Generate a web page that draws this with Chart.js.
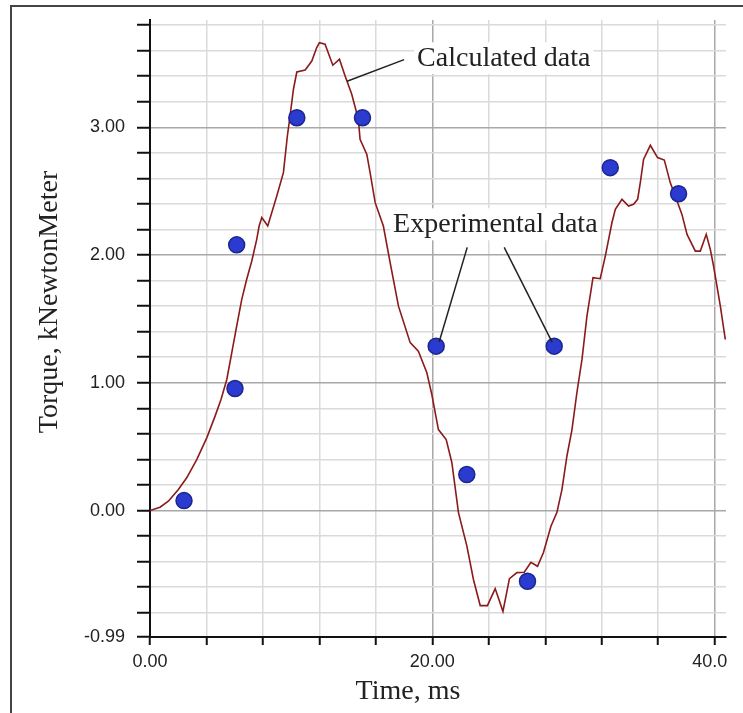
<!DOCTYPE html>
<html>
<head>
<meta charset="utf-8">
<script src="https://cdn.jsdelivr.net/npm/chart.js@4.4.0/dist/chart.umd.min.js"></script>
<style>
html, body { margin: 0; padding: 0; background: #fff; }
#wrap { position: relative; width: 743px; height: 713px; overflow: hidden; }
#frame { position: absolute; left: 10px; top: 5px; width: 800px; height: 800px; border-left: 2px solid #444; border-top: 2px solid #444; }
canvas { position: absolute; left: 0; top: 0; }
</style>
</head>
<body>
<div id="wrap"><div id="frame"></div><canvas id="torqueChart" width="743" height="713"></canvas></div>
<script>
// calculated torque curve (ms, kN·m)
const calcTime = [0.00, 0.71, 1.30, 2.01, 2.60, 3.31, 4.02, 4.61, 5.03, 5.44, 5.79, 6.14, 6.50, 6.85, 7.21, 7.56, 7.73, 7.92, 8.34, 8.98,
  9.45, 9.73, 9.92, 10.16, 10.40, 10.99, 11.46, 11.81, 12.00, 12.40, 12.95, 13.42, 13.82, 14.29, 14.76, 14.88, 15.36, 15.59, 15.95, 16.53,
  17.01, 17.60, 18.43, 19.01, 19.61, 19.96, 20.43, 20.98, 21.38, 21.85, 22.45, 22.91, 23.39, 23.90, 24.45, 25.00, 25.46, 25.99, 26.51, 26.98,
  27.45, 27.87, 28.40, 28.82, 29.18, 29.53, 29.89, 30.24, 30.60, 30.95, 31.38, 31.89, 32.25, 32.72, 32.96, 33.43, 33.90, 34.25, 34.54, 34.73,
  34.96, 35.44, 35.95, 36.43, 36.85, 37.33, 37.68, 38.04, 38.63, 38.98, 39.40, 39.69, 39.92, 40.40, 40.75];
const calcTorque = [0.000, 0.026, 0.073, 0.164, 0.256, 0.399, 0.569, 0.739, 0.869, 1.026, 1.235, 1.444, 1.653, 1.810, 1.953, 2.123, 2.227, 2.293, 2.227, 2.462,
  2.645, 2.932, 3.088, 3.298, 3.433, 3.449, 3.519, 3.624, 3.663, 3.650, 3.486, 3.533, 3.402, 3.258, 3.062, 2.906, 2.788, 2.645, 2.410, 2.227,
  1.940, 1.600, 1.314, 1.248, 1.079, 0.909, 0.634, 0.556, 0.376, -0.016, -0.280, -0.540, -0.744, -0.744, -0.611, -0.789, -0.533, -0.486, -0.483, -0.405,
  -0.436, -0.329, -0.123, -0.016, 0.164, 0.425, 0.634, 0.924, 1.183, 1.522, 1.823, 1.815, 1.992, 2.253, 2.358, 2.436, 2.384, 2.397, 2.436, 2.567,
  2.749, 2.859, 2.763, 2.744, 2.567, 2.423, 2.318, 2.162, 2.031, 2.031, 2.162, 2.044, 1.914, 1.600, 1.339];

// experimental points
const expTime = [2.41, 6.02, 6.14, 10.40, 15.05, 20.27, 22.44, 26.74, 28.63, 32.60, 37.44];
const expTorque = [0.078, 0.955, 2.08, 3.075, 3.075, 1.287, 0.282, -0.554, 1.287, 2.684, 2.48];

const xTicks = [0, 4, 8, 12, 16, 20, 24, 28, 32, 36, 40];
const xLabelled = [0, 20, 40];
const yTicks = [-0.99, -0.8, -0.6, -0.4, -0.2, 0, 0.2, 0.4, 0.6, 0.8, 1, 1.2, 1.4, 1.6, 1.8, 2, 2.2, 2.4, 2.6, 2.8, 3, 3.2, 3.4, 3.6, 3.8];
const yLabelled = [-0.99, 0, 1, 2, 3];

const SERIF = '"Liberation Serif", "DejaVu Serif", serif';
const SANS = '"Liberation Sans", Arial, sans-serif';

// callout labels, in data units
const callouts = [
  { text: 'Calculated data', x: 18.92, y: 3.478, lines: [[18.0, 3.53, 13.96, 3.36]] },
  { text: 'Experimental data', x: 17.22, y: 2.178, lines: [[22.47, 2.06, 20.48, 1.32], [25.09, 2.06, 28.49, 1.316]] }
];

const isOn = (list, v) => list.some(t => Math.abs(t - v) < 1e-6);

const decor = {
  id: 'decor',
  beforeDraw(chart) {
    const c = chart.ctx;
    c.save();
    c.beginPath();
    c.rect(0, 0, 727, chart.height);
    c.clip();
  },
  afterDatasetsDraw(chart) {
    const c = chart.ctx, sx = chart.scales.x, sy = chart.scales.y;
    c.save();
    c.font = '28px ' + SERIF;
    callouts.forEach(co => {
      const px = sx.getPixelForValue(co.x), py = sy.getPixelForValue(co.y);
      const w = c.measureText(co.text).width;
      c.fillStyle = '#fff';
      c.fillRect(px - 3, py - 24, w + 6, 32);
      c.fillStyle = '#222';
      c.textAlign = 'left';
      c.textBaseline = 'alphabetic';
      c.fillText(co.text, px, py);
      c.strokeStyle = '#222';
      c.lineWidth = 1.5;
      co.lines.forEach(l => {
        c.beginPath();
        c.moveTo(sx.getPixelForValue(l[0]), sy.getPixelForValue(l[1]));
        c.lineTo(sx.getPixelForValue(l[2]), sy.getPixelForValue(l[3]));
        c.stroke();
      });
    });
    // axis titles
    c.fillStyle = '#222';
    c.textAlign = 'center';
    c.fillText('Time, ms', 408, 699);
    c.translate(57, 302);
    c.rotate(-Math.PI / 2);
    c.fillText('Torque, kNewtonMeter', 0, 0);
    c.restore();
  },
  afterDraw(chart) {
    chart.ctx.restore();
  }
};

new Chart(document.getElementById('torqueChart'), {
  type: 'scatter',
  data: {
    datasets: [
      {
        label: 'Experimental data',
        data: expTime.map((t, i) => ({ x: t, y: expTorque[i] })),
        pointRadius: 8,
        pointStyle: 'circle',
        backgroundColor: '#2b3bd0',
        borderColor: '#1b268f',
        borderWidth: 1.5,
        order: 1
      },
      {
        label: 'Calculated data',
        data: calcTime.map((t, i) => ({ x: t, y: calcTorque[i] })),
        showLine: true,
        pointRadius: 0,
        borderColor: '#8b1a1a',
        borderWidth: 1.6,
        tension: 0,
        order: 2
      }
    ]
  },
  options: {
    responsive: false,
    animation: false,
    layout: { padding: { top: 20, right: 17, left: 0, bottom: 0 } },
    plugins: { legend: { display: false }, tooltip: { enabled: false } },
    scales: {
      x: {
        type: 'linear', min: 0, max: 40.8,
        afterBuildTicks: s => { s.ticks = xTicks.map(v => ({ value: v })); },
        afterFit: s => { s.height = 76; s.paddingLeft = 0; s.paddingRight = 0; },
        ticks: {
          autoSkip: false, maxRotation: 0, padding: 6, color: '#222',
          font: { family: SANS, size: 18 },
          callback: v => isOn(xLabelled, v) ? v.toFixed(2) : ''
        },
        grid: {
          color: ctx => isOn(xLabelled, ctx.tick.value) ? '#a8a8a8' : '#dadada',
          lineWidth: 1.5, drawTicks: true, tickLength: 8, tickColor: '#111', tickWidth: 2
        },
        border: { color: '#111', width: 2 }
      },
      y: {
        type: 'linear', min: -0.99, max: 3.84,
        afterBuildTicks: s => { s.ticks = yTicks.map(v => ({ value: v })); },
        afterFit: s => { s.width = 150; s.paddingTop = 0; s.paddingBottom = 0; },
        ticks: {
          autoSkip: false, padding: 12, color: '#222',
          font: { family: SANS, size: 18 },
          callback: v => isOn(yLabelled, v) ? v.toFixed(2) : ''
        },
        grid: {
          color: ctx => isOn(yLabelled, ctx.tick.value) ? '#a8a8a8' : '#dadada',
          lineWidth: 1.5, drawTicks: true, tickLength: 13, tickColor: '#111', tickWidth: 2
        },
        border: { color: '#111', width: 2 }
      }
    }
  },
  plugins: [decor]
});
</script>
</body>
</html>
